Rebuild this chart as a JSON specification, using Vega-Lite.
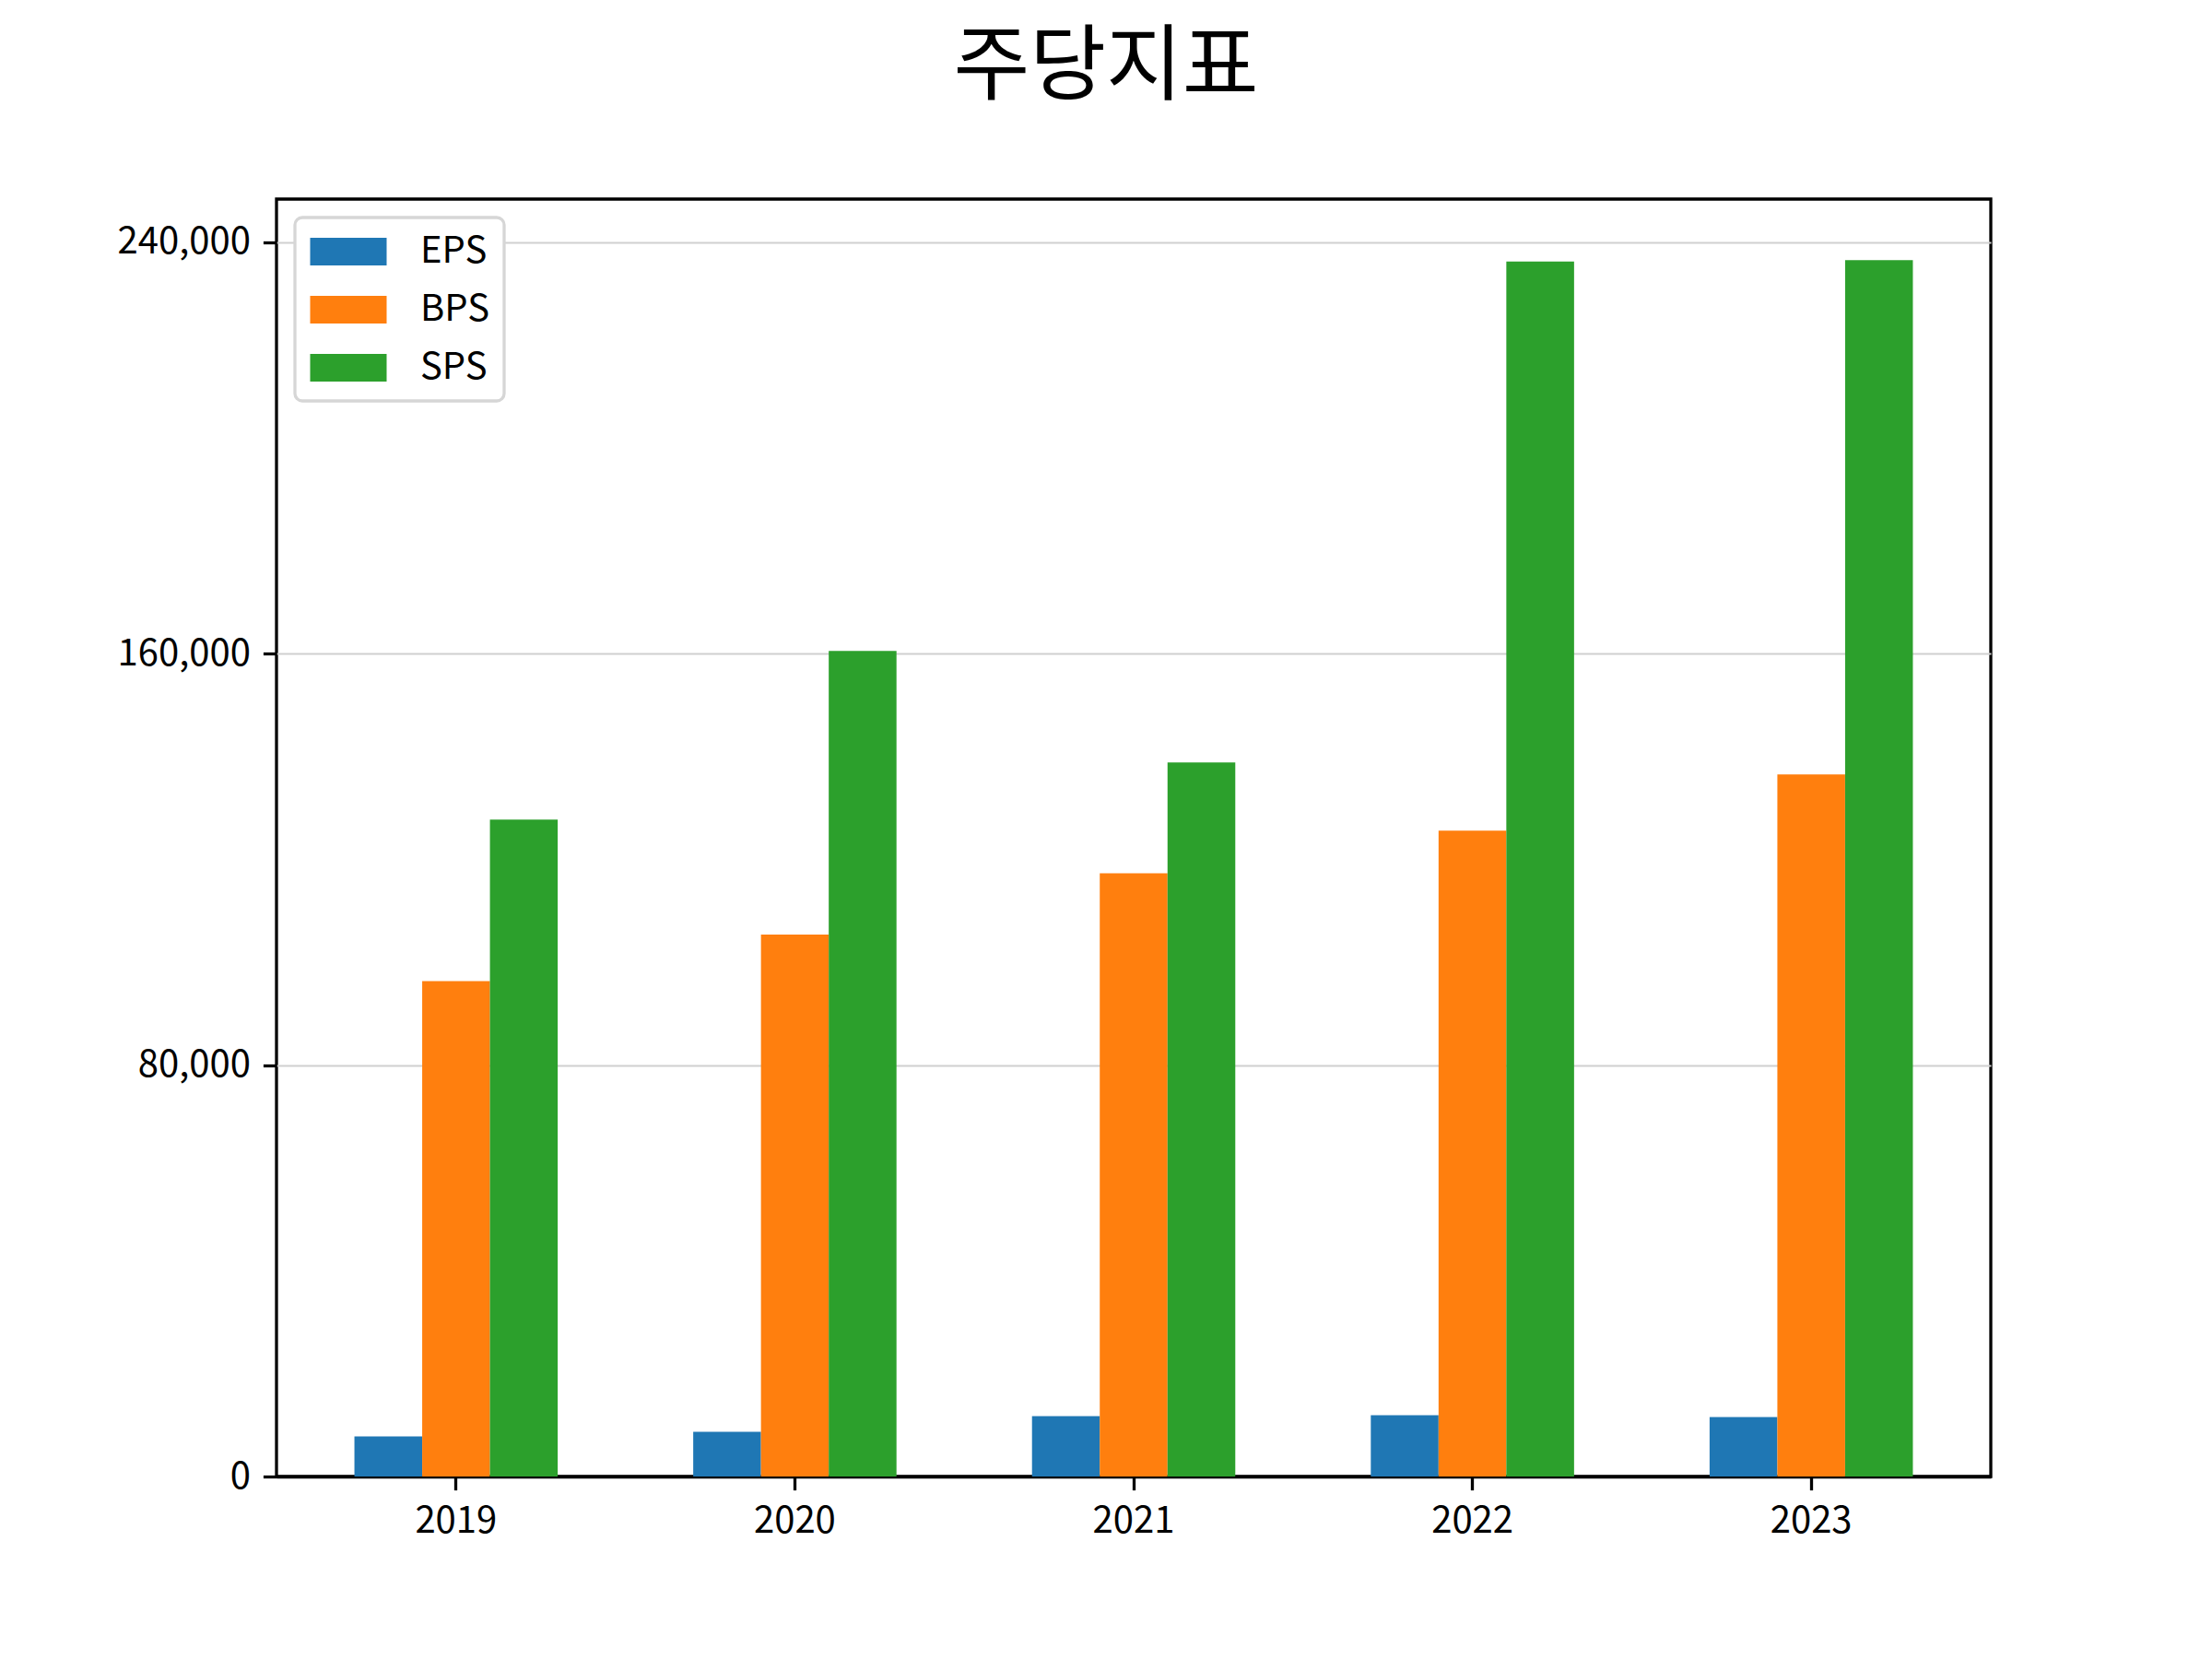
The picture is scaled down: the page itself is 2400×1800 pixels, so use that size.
{
  "$schema": "https://vega.github.io/schema/vega-lite/v6.json",
  "description": "주당지표: EPS, BPS, SPS by year, grouped bars",
  "width": 1860,
  "height": 1386,
  "autosize": {"type": "none"},
  "padding": {"left": 300, "top": 216, "right": 240, "bottom": 198},
  "background": "white",
  "title": {
    "text": "주당지표",
    "anchor": "middle",
    "font": "Noto Sans CJK KR",
    "fontSize": 90,
    "fontWeight": "normal",
    "color": "black",
    "baseline": "alphabetic",
    "offset": 25,
    "dx": -30
  },
  "data": {
    "values": [
      {"year": "2019", "metric": "EPS", "value": 7800},
      {"year": "2020", "metric": "EPS", "value": 8700},
      {"year": "2021", "metric": "EPS", "value": 11750},
      {"year": "2022", "metric": "EPS", "value": 11900},
      {"year": "2023", "metric": "EPS", "value": 11550},
      {"year": "2019", "metric": "BPS", "value": 96350},
      {"year": "2020", "metric": "BPS", "value": 105370},
      {"year": "2021", "metric": "BPS", "value": 117320},
      {"year": "2022", "metric": "BPS", "value": 125570},
      {"year": "2023", "metric": "BPS", "value": 136500},
      {"year": "2019", "metric": "SPS", "value": 127720},
      {"year": "2020", "metric": "SPS", "value": 160520},
      {"year": "2021", "metric": "SPS", "value": 138830},
      {"year": "2022", "metric": "SPS", "value": 236250},
      {"year": "2023", "metric": "SPS", "value": 236520}
    ]
  },
  "mark": {"type": "bar", "strokeWidth": 0},
  "encoding": {
    "x": {
      "field": "year",
      "type": "nominal",
      "scale": {"paddingInner": 0.4, "paddingOuter": 0.23},
      "axis": {"title": null, "labelAngle": 0, "grid": false}
    },
    "xOffset": {
      "field": "metric",
      "type": "nominal",
      "sort": ["EPS", "BPS", "SPS"],
      "scale": {"paddingInner": 0, "paddingOuter": 0}
    },
    "y": {
      "field": "value",
      "type": "quantitative",
      "scale": {"domain": [0, 248400], "nice": false, "zero": true},
      "axis": {
        "title": null,
        "values": [0, 80000, 160000, 240000],
        "format": ",.0f",
        "grid": true,
        "gridColor": {
          "condition": {"test": "datum.value === 0", "value": "black"},
          "value": "#d0d0d0"
        },
        "gridWidth": {
          "condition": {"test": "datum.value === 0", "value": 3.3},
          "value": 2.2
        }
      }
    },
    "color": {
      "field": "metric",
      "type": "nominal",
      "scale": {
        "domain": ["EPS", "BPS", "SPS"],
        "range": ["#1f77b4", "#ff7f0e", "#2ca02c"]
      },
      "legend": {
        "title": null,
        "orient": "none",
        "legendX": 20,
        "legendY": 20,
        "symbolType": "M-2,-0.72L2,-0.72L2,0.72L-2,0.72Z",
        "symbolSize": 1722,
        "symbolStrokeWidth": 0,
        "symbolOpacity": 1,
        "symbolOffset": 21,
        "labelOffset": 57,
        "rowPadding": 22,
        "padding": 16,
        "strokeColor": "#d6d6d6",
        "fillColor": "white",
        "cornerRadius": 8,
        "encode": {
          "legend": {"update": {"strokeWidth": {"value": 3.3}}}
        }
      }
    }
  },
  "config": {
    "view": {"stroke": "black", "strokeWidth": 3.3},
    "axis": {
      "domain": false,
      "zindex": 1,
      "ticks": true,
      "tickColor": "black",
      "tickWidth": 3.3,
      "tickSize": 14.6,
      "labelFont": "Noto Sans CJK KR",
      "labelFontSize": 40,
      "labelColor": "black",
      "labelPadding": 14
    },
    "legend": {
      "labelFont": "Noto Sans CJK KR",
      "labelFontSize": 40,
      "labelColor": "black"
    }
  }
}
